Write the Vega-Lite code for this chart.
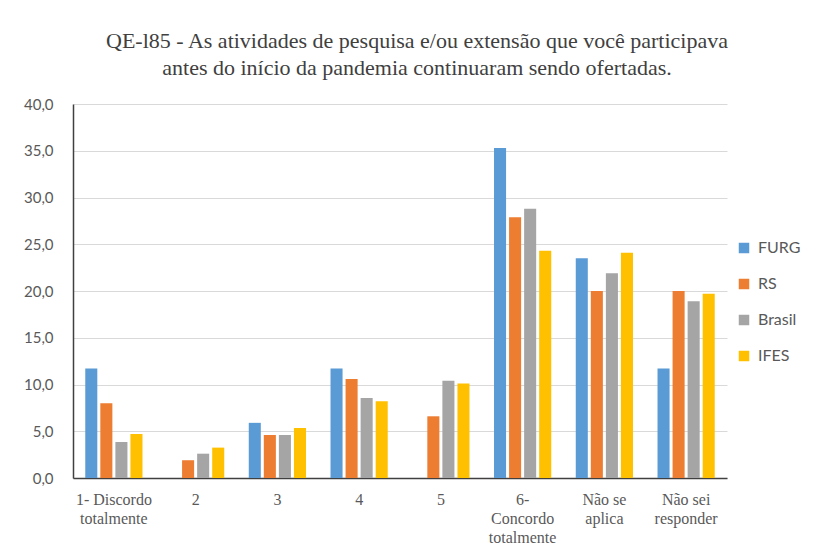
{
  "$schema": "https://vega.github.io/schema/vega-lite/v6.json",
  "width": 654,
  "height": 374,
  "autosize": {"type": "none"},
  "padding": {"left": 73, "top": 104, "right": 101, "bottom": 75},
  "background": "white",
  "title": {
    "text": ["QE-l85 - As atividades de pesquisa e/ou extensão que você participava", "antes do início da pandemia continuaram sendo ofertadas."],
    "font": "Liberation Serif",
    "fontSize": 22,
    "fontWeight": "normal",
    "color": "#404040",
    "lineHeight": 27,
    "offset": 17,
    "dx": 17
  },
  "data": {
    "values": [
      {"cat": "1- Discordo|totalmente", "serie": "FURG", "value": 11.7},
      {"cat": "1- Discordo|totalmente", "serie": "RS", "value": 8.0},
      {"cat": "1- Discordo|totalmente", "serie": "Brasil", "value": 3.85},
      {"cat": "1- Discordo|totalmente", "serie": "IFES", "value": 4.7},
      {"cat": "2", "serie": "FURG", "value": 0},
      {"cat": "2", "serie": "RS", "value": 1.9},
      {"cat": "2", "serie": "Brasil", "value": 2.6},
      {"cat": "2", "serie": "IFES", "value": 3.25},
      {"cat": "3", "serie": "FURG", "value": 5.9},
      {"cat": "3", "serie": "RS", "value": 4.6},
      {"cat": "3", "serie": "Brasil", "value": 4.6},
      {"cat": "3", "serie": "IFES", "value": 5.35},
      {"cat": "4", "serie": "FURG", "value": 11.7},
      {"cat": "4", "serie": "RS", "value": 10.6},
      {"cat": "4", "serie": "Brasil", "value": 8.55},
      {"cat": "4", "serie": "IFES", "value": 8.2},
      {"cat": "5", "serie": "FURG", "value": 0},
      {"cat": "5", "serie": "RS", "value": 6.6},
      {"cat": "5", "serie": "Brasil", "value": 10.4},
      {"cat": "5", "serie": "IFES", "value": 10.1},
      {"cat": "6-|Concordo|totalmente", "serie": "FURG", "value": 35.3},
      {"cat": "6-|Concordo|totalmente", "serie": "RS", "value": 27.9},
      {"cat": "6-|Concordo|totalmente", "serie": "Brasil", "value": 28.8},
      {"cat": "6-|Concordo|totalmente", "serie": "IFES", "value": 24.3},
      {"cat": "Não se|aplica", "serie": "FURG", "value": 23.5},
      {"cat": "Não se|aplica", "serie": "RS", "value": 20.0},
      {"cat": "Não se|aplica", "serie": "Brasil", "value": 21.9},
      {"cat": "Não se|aplica", "serie": "IFES", "value": 24.1},
      {"cat": "Não sei|responder", "serie": "FURG", "value": 11.7},
      {"cat": "Não sei|responder", "serie": "RS", "value": 20.0},
      {"cat": "Não sei|responder", "serie": "Brasil", "value": 18.9},
      {"cat": "Não sei|responder", "serie": "IFES", "value": 19.7}
    ]
  },
  "mark": {"type": "bar"},
  "encoding": {
    "x": {
      "field": "cat",
      "type": "nominal",
      "sort": null,
      "scale": {"paddingInner": 0.3, "paddingOuter": 0.15},
      "axis": {
        "title": null,
        "labelAngle": 0,
        "labelExpr": "split(datum.label, '|')",
        "labelFont": "Liberation Serif",
        "labelFontSize": 16,
        "labelColor": "#595959",
        "labelLineHeight": 19,
        "labelPadding": 13,
        "labelBaseline": "top",
        "ticks": false,
        "domainColor": "#404040",
        "domainWidth": 1.5
      }
    },
    "xOffset": {
      "field": "serie",
      "type": "nominal",
      "sort": ["FURG", "RS", "Brasil", "IFES"],
      "scale": {"paddingInner": 0.2, "paddingOuter": 0}
    },
    "y": {
      "field": "value",
      "type": "quantitative",
      "scale": {"domain": [0, 40], "nice": false},
      "axis": {
        "title": null,
        "values": [0, 5, 10, 15, 20, 25, 30, 35, 40],
        "labelExpr": "replace(format(datum.value, '.1f'), '.', ',')",
        "labelFont": "Lato",
        "labelFontSize": 15,
        "labelColor": "#595959",
        "labelPadding": 20,
        "ticks": false,
        "gridColor": "#D9D9D9",
        "gridWidth": 1,
        "domainColor": "#404040",
        "domainWidth": 1.5
      }
    },
    "color": {
      "field": "serie",
      "type": "nominal",
      "scale": {"domain": ["FURG", "RS", "Brasil", "IFES"], "range": ["#5B9BD5", "#ED7D31", "#A5A5A5", "#FFC000"]},
      "legend": {
        "title": null,
        "orient": "none",
        "legendX": 663,
        "legendY": 136,
        "symbolType": "square",
        "symbolSize": 110,
        "symbolStrokeWidth": 0,
        "labelFont": "Lato",
        "labelFontSize": 16,
        "labelColor": "#595959",
        "rowPadding": 20,
        "labelOffset": 6
      }
    }
  },
  "config": {"view": {"stroke": null}}
}
